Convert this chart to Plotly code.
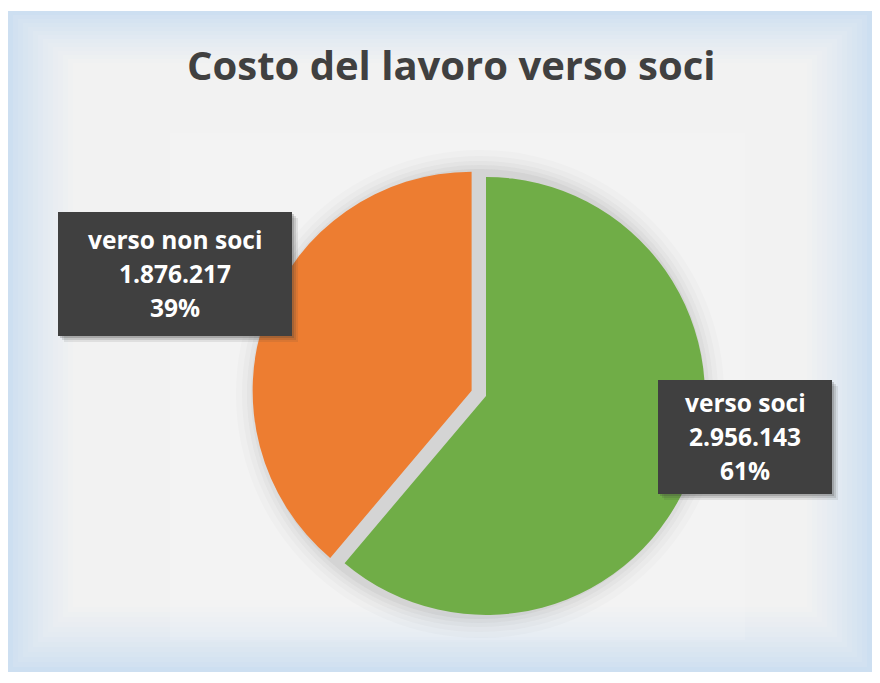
import plotly.graph_objects as go

# ---- data ----
labels = ["verso soci", "verso non soci"]
values = [2956143, 1876217]
colors = ["#70ad47", "#ed7d31"]
pulls = [0, 0.07]
title = "Costo del lavoro verso soci"

OFF = 8          # page body margin
W, H = 864, 664  # figure size

def px(x):
    return (x - OFF) / W

def py(y):
    return 1 - (y - OFF) / H

fig = go.Figure()
fig.add_trace(go.Pie(
    labels=labels, values=values, sort=False, direction="clockwise", rotation=0,
    marker=dict(colors=colors, line=dict(width=0)), pull=pulls,
    textinfo="none", hoverinfo="label+value+percent", showlegend=False,
    domain=dict(x=[px(251.7), px(720.3)], y=[py(630.3), py(161.7)]),
))

shapes = []
def lerp(c1, c2, t):
    return "#%02x%02x%02x" % tuple(int(round(a + (b - a) * t)) for a, b in zip(c1, c2))

outer = (205, 223, 241)
inner = (242, 242, 242)
x0, y0, x1, y1 = 8, 11, 872, 672
steps = 14
for i in range(steps):
    t = i / (steps - 1)
    ins = i * 5
    shapes.append(dict(type="rect", xref="paper", yref="paper", layer="below",
                       x0=px(x0 + ins), x1=px(x1 - ins), y0=py(y1 - ins), y1=py(y0 + ins * 0.8),
                       fillcolor=lerp(outer, inner, t ** 0.8), line=dict(width=0)))
shapes.append(dict(type="rect", xref="paper", yref="paper", layer="below",
                   x0=px(170), x1=px(745), y0=py(640), y1=py(133),
                   fillcolor="rgba(255,255,255,0.12)", line=dict(width=0)))
# soft shadow behind pie
for k, op in [(22, 0.03), (16, 0.04), (11, 0.05), (7, 0.06), (3, 0.09)]:
    cx, cy, r = 480, 394, 222 + k
    shapes.append(dict(type="circle", xref="paper", yref="paper", layer="below",
                       x0=px(cx - r), x1=px(cx + r), y0=py(cy + r), y1=py(cy - r),
                       fillcolor=f"rgba(120,120,120,{op})", line=dict(width=0)))

total = sum(values)
boxes = [
    (658, 380, 832, 494),
    (58, 212, 292, 336),
]
annotations = []
for (bx0, by0, bx1, by1), lab, v in zip(boxes, labels, values):
    for off, op in [(6, 0.10), (4, 0.15), (2, 0.22)]:
        shapes.append(dict(type="rect", xref="paper", yref="paper", layer="above",
                           x0=px(bx0 + off), x1=px(bx1 + off), y0=py(by1 + off), y1=py(by0 + off),
                           fillcolor=f"rgba(60,60,60,{op})", line=dict(width=0)))
    shapes.append(dict(type="rect", xref="paper", yref="paper", layer="above",
                       x0=px(bx0), x1=px(bx1), y0=py(by1), y1=py(by0),
                       fillcolor="#404040", line=dict(width=0)))
    lines = [lab, f"{v:,}".replace(",", "."), f"{round(100 * v / total)}%"]
    cx = (bx0 + bx1) / 2
    cy = (by0 + by1) / 2
    for j, t in enumerate(lines):
        annotations.append(dict(x=px(cx), y=py(cy - 1 + (j - 1) * 34), xref="paper", yref="paper",
                                text=f"<b>{t}</b>", showarrow=False, xanchor="center", yanchor="middle",
                                font=dict(family="Open Sans", size=24.5, color="white")))

annotations.append(dict(x=px(451), y=py(65), xref="paper", yref="paper", text=f"<b>{title}</b>",
                        showarrow=False, xanchor="center", yanchor="middle",
                        font=dict(family="Open Sans", size=40, color="#404040")))

fig.update_layout(width=W, height=H, margin=dict(l=0, r=0, t=0, b=0),
                  paper_bgcolor="white", plot_bgcolor="white",
                  shapes=shapes, annotations=annotations)

fig.write_html("out.html")
